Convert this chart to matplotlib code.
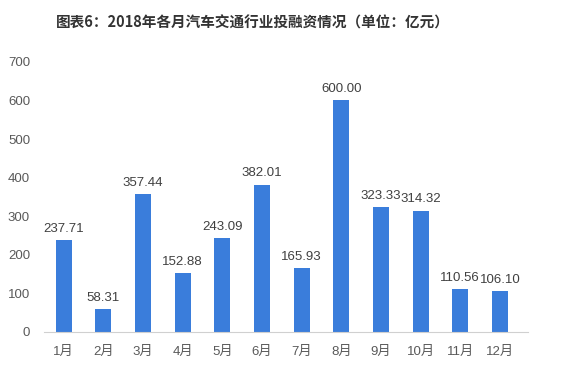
import matplotlib
matplotlib.use("Agg")
import matplotlib.pyplot as plt

plt.rcParams['font.family'] = ['Liberation Sans', 'Noto Sans CJK SC', 'DejaVu Sans']

months = ["1月", "2月", "3月", "4月", "5月", "6月", "7月", "8月", "9月", "10月", "11月", "12月"]
values = [237.71, 58.31, 357.44, 152.88, 243.09, 382.01, 165.93, 600.00, 323.33, 314.32, 110.56, 106.10]
yticks = [0, 100, 200, 300, 400, 500, 600, 700]
title = "图表6：2018年各月汽车交通行业投融资情况（单位：亿元）"

fig = plt.figure(figsize=(5.78, 3.82), dpi=100)
ax = fig.add_axes([0.076, 0.131, 0.837, 0.707])
x = list(range(len(months)))
ax.bar(x, values, width=0.4, color="#3a7ddb", zorder=2)
for xi, v in zip(x, values):
    ax.text(xi, v + 14, f"{v:.2f}", ha="center", va="bottom", fontsize=9.5, color="#404040")

ax.set_xlim(-0.5, 11.7)
ax.set_ylim(0, 700)
ax.set_yticks(yticks)
ax.set_xticks(x)
ax.set_xticklabels(months)
ax.tick_params(axis="both", length=0, labelsize=9.5, colors="#595959")
ax.tick_params(axis="x", pad=10)
ax.tick_params(axis="y", pad=10)
for s in ["top", "right", "left"]:
    ax.spines[s].set_visible(False)
ax.spines["bottom"].set_color("#d0d0d0")

fig.text(0.437, 0.94, title, ha="center", va="center", fontsize=10.5, fontweight="bold", color="#333333",
         family=['Noto Sans CJK SC', 'DejaVu Sans'])

fig.savefig("out.png", dpi=100, facecolor="white")
